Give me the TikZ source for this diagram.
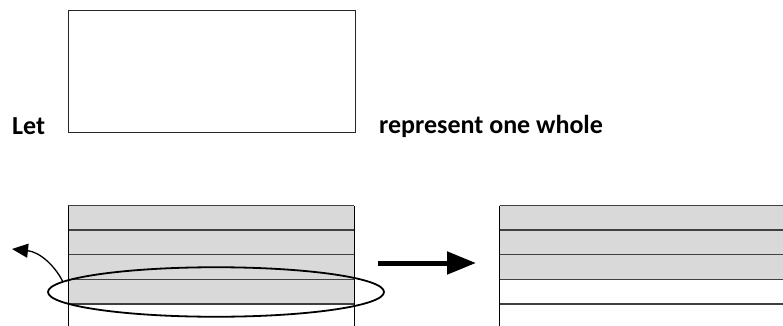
\documentclass[tikz,border=0pt]{standalone}
\usepackage{fontspec}
\setmainfont{Carlito}
\usetikzlibrary{arrows.meta,shapes.geometric}
\definecolor{stripfill}{HTML}{D9D9D9}
\definecolor{rule}{HTML}{404040}
\tikzset{
  label/.style={inner sep=0pt, font=\fontsize{26}{31}\selectfont\bfseries},
  wholebox/.style={draw=black!85, line width=1pt, inner sep=0pt},
  strip/.style={fill=stripfill},
  rowline/.style={draw=rule, line width=1.3pt},
  sideline/.style={draw=black, line width=1pt},
  selection/.style={draw=black, ellipse, line width=1.8pt, inner sep=0pt},
  bigarrow/.style={line width=5pt, -{Triangle[length=29pt,width=22pt]}},
  takearrow/.style={line width=1.3pt, -{Triangle[length=16pt,width=14pt]}}
}
\begin{document}
\begin{tikzpicture}[x=1pt,y=-1pt]
  \useasboundingbox (0,0) rectangle (783,326);
  \clip (0,0) rectangle (783,326);

  % one whole
  \node[wholebox, minimum width=287.5pt, minimum height=121.5pt, anchor=north west] (whole) at (67.5,10.5) {};
  \node[label, anchor=base west] (let) at (12,134) {Let};
  \node[label, anchor=base west] (rep) at (379,133.5) {represent one whole};

  % left bar: four shaded rows
  \fill[strip] (68.3,205.5) rectangle (354.3,304);
  \foreach \y in {205.5,230,254.7,279.3,304}
    \draw[rowline] (68.3,\y) -- (354.3,\y);
  \draw[sideline] (68.3,205.5) -- (68.3,326);
  \draw[sideline] (354.3,205.5) -- (354.3,326);

  % right bar: three shaded rows
  \fill[strip] (499.7,205.5) rectangle (790,279.3);
  \foreach \y in {205.5,230,254.7,279.3,304}
    \draw[rowline] (499.7,\y) -- (790,\y);
  \draw[sideline] (499.7,205.5) -- (499.7,326);

  % selected row
  \node[selection, minimum width=336pt, minimum height=49.5pt] (sel) at (216,292) {};

  % taking the row away
  \coordinate (away) at (12,249);
  \draw[takearrow] (sel.176) .. controls (55,266) and (40,252) .. (away);

  % result arrow
  \coordinate (from) at (378,263);
  \coordinate (to) at (476,263);
  \draw[bigarrow] (from) -- (to);
\end{tikzpicture}
\end{document}
